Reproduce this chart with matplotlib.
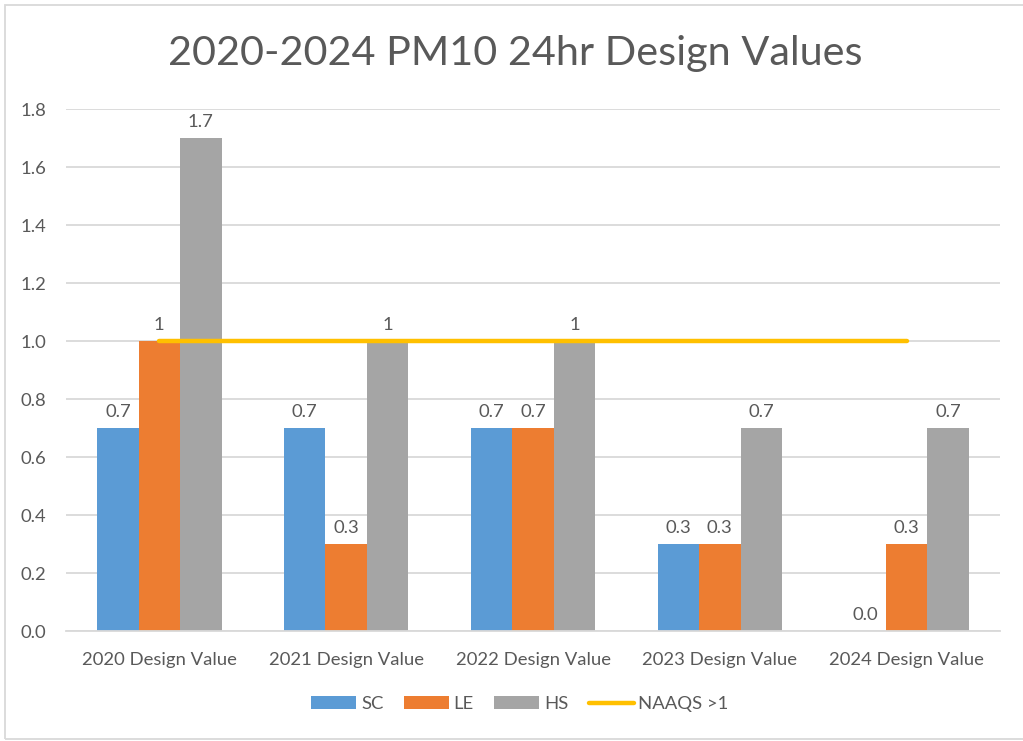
import matplotlib
matplotlib.use("Agg")
import matplotlib.pyplot as plt
from matplotlib.patches import Rectangle
import numpy as np

categories = ["2020 Design Value", "2021 Design Value", "2022 Design Value",
              "2023 Design Value", "2024 Design Value"]
sc = [0.7, 0.7, 0.7, 0.3, 0.0]
le = [1.0, 0.3, 0.7, 0.3, 0.3]
hs = [1.7, 1.0, 1.0, 0.7, 0.7]
naaqs = [1.0, 1.0, 1.0, 1.0, 1.0]
sc_labels = ["0.7", "0.7", "0.7", "0.3", "0.0"]
le_labels = ["1", "0.3", "0.7", "0.3", "0.3"]
hs_labels = ["1.7", "1", "1", "0.7", "0.7"]
yticks = [0.0, 0.2, 0.4, 0.6, 0.8, 1.0, 1.2, 1.4, 1.6, 1.8]

plt.rcParams['font.family'] = ['Lato', 'DejaVu Sans']
TXT = '#595959'
GRID = '#D9D9D9'
FS = 13.3

fig = plt.figure(figsize=(10.23, 7.41), dpi=100)
ax = fig.add_axes([66/1023, 1-631/741, (1000-66)/1023, (631-109)/741])

x = np.arange(len(categories))
w = 0.222
series = [(sc, sc_labels, '#5B9BD5', 'SC'),
          (le, le_labels, '#ED7D31', 'LE'),
          (hs, hs_labels, '#A5A5A5', 'HS')]
handles = []
for i, (vals, labs, col, name) in enumerate(series):
    bars = ax.bar(x + (i - 1) * w, vals, width=w, color=col, label=name, zorder=2)
    handles.append(bars)
    for b, lab in zip(bars, labs):
        ax.annotate(lab, (b.get_x() + b.get_width() / 2, b.get_height()),
                    xytext=(0, 6), textcoords='offset points',
                    ha='center', va='bottom', fontsize=FS, color=TXT)

ln, = ax.plot(x, naaqs, color='#FFC000', linewidth=3.2, solid_capstyle='round',
              label='NAAQS >1', zorder=3)
handles.append(ln)

ax.set_xlim(-0.5, len(categories) - 0.5)
ax.set_ylim(0, 1.8)
ax.set_yticks(yticks)
ax.set_yticklabels([f"{v:.1f}" for v in yticks])
ax.set_xticks(x)
ax.set_xticklabels(categories)
ax.tick_params(axis='both', length=0, labelsize=FS, labelcolor=TXT)
ax.tick_params(axis='y', pad=14)
ax.tick_params(axis='x', pad=15)
ax.yaxis.grid(True, color=GRID, linewidth=1.3, zorder=0)
ax.set_axisbelow(True)
for s in ['left', 'right', 'top']:
    ax.spines[s].set_visible(False)
ax.spines['bottom'].set_color(GRID)
ax.spines['bottom'].set_linewidth(1.3)

fig.text(515/1023, 1 - 53/741, "2020-2024 PM10 24hr Design Values", ha='center', va='center',
         fontsize=29.8, color=TXT)

fig.legend(handles=handles, labels=['SC', 'LE', 'HS', 'NAAQS >1'],
           loc='center', bbox_to_anchor=(520/1023, 1 - 704/741), ncol=4,
           frameon=False, fontsize=FS, labelcolor=TXT, handlelength=2.45,
           handletextpad=0.25, columnspacing=1.1)

fig.patches.append(Rectangle((5/1023, 2/741), 1.1, 1 - 7/741, transform=fig.transFigure,
                             fill=False, edgecolor=GRID, linewidth=1.3))

fig.savefig("out.png", dpi=100)
